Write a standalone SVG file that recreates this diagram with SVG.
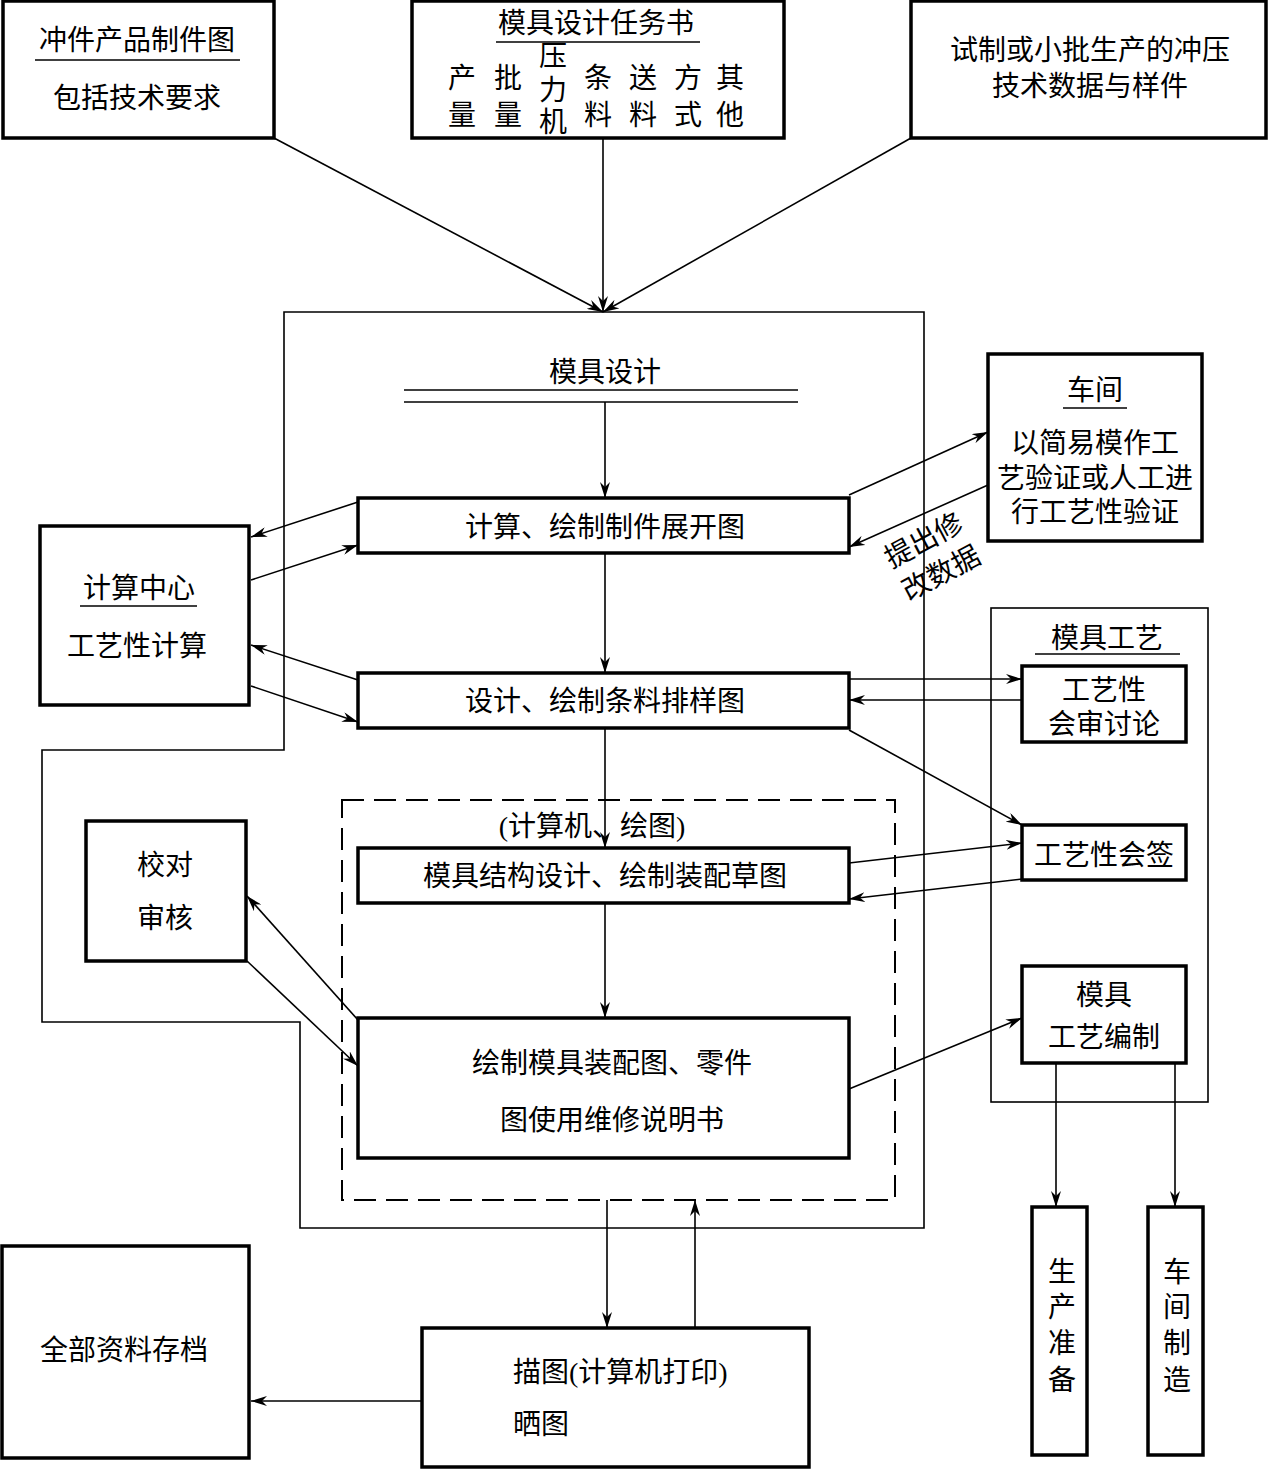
<svg xmlns="http://www.w3.org/2000/svg" width="1269" height="1470" viewBox="0 0 1269 1470">
<style>
.box{fill:#fff;stroke:#000;stroke-width:3.5}
.thin{fill:none;stroke:#000;stroke-width:1.6}
.dash{fill:none;stroke:#000;stroke-width:2;stroke-dasharray:22 10}
.ul{stroke:#000;stroke-width:1.6}
.c{stroke:#000;stroke-width:1.6;fill:none;marker-end:url(#ah)}
text{font-family:"Liberation Serif","Noto Sans CJK SC",serif;font-size:28px;fill:#000;text-anchor:middle}
.l{text-anchor:start}
</style>
<defs>
<marker id="ah" viewBox="0 0 16 10" refX="16" refY="5" markerWidth="16" markerHeight="10" markerUnits="userSpaceOnUse" orient="auto">
<path d="M0,0 L16,5 L0,10 L5,5 z" fill="#000"/>
</marker>
</defs>

<g id="containers">
<polygon class="thin" points="284,312 924,312 924,1228 300,1228 300,1022 42,1022 42,750 284,750"/>
<rect class="dash" x="342" y="800" width="553" height="400"/>
<rect id="moju-gongyi" class="thin" x="991" y="608" width="217" height="494"/>
<text x="1107" y="648">模具工艺</text>
<line class="ul" x1="1035" y1="654" x2="1180" y2="654"/>
</g>

<g id="connectors">
<line class="c" x1="274" y1="138" x2="603" y2="312"/>
<line class="c" x1="603" y1="138" x2="603" y2="312"/>
<line class="c" x1="911" y1="138" x2="603" y2="312"/>
<line class="c" x1="605" y1="402" x2="605" y2="498"/>
<line class="c" x1="605" y1="553" x2="605" y2="673"/>
<line class="c" x1="605" y1="728" x2="605" y2="848"/>
<line class="c" x1="605" y1="903" x2="605" y2="1018"/>
<line class="c" x1="358" y1="502" x2="251" y2="537"/>
<line class="c" x1="251" y1="580" x2="358" y2="545"/>
<line class="c" x1="358" y1="680" x2="251" y2="645"/>
<line class="c" x1="251" y1="686" x2="358" y2="722"/>
<line class="c" x1="849" y1="495" x2="988" y2="432"/>
<line class="c" x1="988" y1="485" x2="849" y2="547"/>
<line class="c" x1="849" y1="679" x2="1022" y2="679"/>
<line class="c" x1="1022" y1="700" x2="849" y2="700"/>
<line class="c" x1="849" y1="730" x2="1022" y2="825"/>
<line class="c" x1="849" y1="863" x2="1022" y2="843"/>
<line class="c" x1="1022" y1="879" x2="849" y2="899"/>
<line class="c" x1="849" y1="1089" x2="1022" y2="1018"/>
<line class="c" x1="1056" y1="1063" x2="1056" y2="1207"/>
<line class="c" x1="1175" y1="1063" x2="1175" y2="1207"/>
<line class="c" x1="358" y1="1020" x2="247" y2="896"/>
<line class="c" x1="247" y1="961" x2="358" y2="1066"/>
<line class="c" x1="607" y1="1200" x2="607" y2="1328"/>
<line class="c" x1="695" y1="1328" x2="695" y2="1200"/>
<line class="c" x1="422" y1="1401" x2="251" y2="1401"/>
</g>

<g id="chongjian">
<rect class="box" x="3" y="1" width="271" height="137"/>
<text x="137" y="50">冲件产品制件图</text>
<line class="ul" x1="35" y1="60" x2="240" y2="60"/>
<text x="137" y="108">包括技术要求</text>
</g>

<g id="renwushu">
<rect class="box" x="412" y="1" width="372" height="137"/>
<text x="596" y="33">模具设计任务书</text>
<line class="ul" x1="496" y1="42" x2="700" y2="42"/>
<text x="462" y="88">产</text><text x="462" y="125">量</text>
<text x="508" y="88">批</text><text x="508" y="125">量</text>
<text x="553" y="66">压</text><text x="553" y="100">力</text><text x="553" y="132">机</text>
<text x="598" y="88">条</text><text x="598" y="125">料</text>
<text x="643" y="88">送</text><text x="643" y="125">料</text>
<text x="688" y="88">方</text><text x="688" y="125">式</text>
<text x="730" y="88">其</text><text x="730" y="125">他</text>
</g>

<g id="shizhi">
<rect class="box" x="911" y="1" width="355" height="137"/>
<text x="1090" y="60">试制或小批生产的冲压</text>
<text x="1090" y="96">技术数据与样件</text>
</g>

<g id="mojusheji">
<text x="605" y="382">模具设计</text>
<line class="ul" x1="404" y1="390" x2="798" y2="390"/>
<line class="ul" x1="404" y1="402" x2="798" y2="402"/>
</g>

<g id="zhankaitu">
<rect class="box" x="358" y="498" width="491" height="55"/>
<text x="605" y="537">计算、绘制制件展开图</text>
</g>

<g id="paiyangtu">
<rect class="box" x="358" y="673" width="491" height="55"/>
<text x="605" y="711">设计、绘制条料排样图</text>
</g>

<text id="jisuanji-label" x="592" y="836">(计算机、绘图)</text>

<g id="caotu">
<rect class="box" x="358" y="848" width="491" height="55"/>
<text x="605" y="886">模具结构设计、绘制装配草图</text>
</g>

<g id="zhuangpeitu">
<rect class="box" x="358" y="1018" width="491" height="140"/>
<text x="612" y="1073">绘制模具装配图、零件</text>
<text x="612" y="1130">图使用维修说明书</text>
</g>

<g id="jisuanzhongxin">
<rect class="box" x="40" y="526" width="209" height="179"/>
<text x="139" y="598">计算中心</text>
<line class="ul" x1="80" y1="606" x2="197" y2="606"/>
<text x="137" y="656">工艺性计算</text>
</g>

<g id="chejian">
<rect class="box" x="988" y="354" width="214" height="187"/>
<text x="1095" y="400">车间</text>
<line class="ul" x1="1063" y1="408" x2="1127" y2="408"/>
<text x="1095" y="453">以简易模作工</text>
<text x="1095" y="488">艺验证或人工进</text>
<text x="1095" y="522">行工艺性验证</text>
</g>

<g id="tichu-label" transform="translate(932,556) rotate(-28)">
<text x="0" y="-8">提出修</text>
<text x="0" y="29">改数据</text>
</g>

<g id="huishen">
<rect class="box" x="1022" y="666" width="164" height="76"/>
<text x="1104" y="700">工艺性</text>
<text x="1104" y="734">会审讨论</text>
</g>

<g id="huiqian">
<rect class="box" x="1022" y="825" width="164" height="55"/>
<text x="1104" y="865">工艺性会签</text>
</g>

<g id="gongyibianzhi">
<rect class="box" x="1022" y="966" width="164" height="97"/>
<text x="1104" y="1005">模具</text>
<text x="1104" y="1047">工艺编制</text>
</g>

<g id="shengchanzhunbei">
<rect class="box" x="1032" y="1207" width="55" height="248"/>
<text x="1062" y="1282">生</text>
<text x="1062" y="1317">产</text>
<text x="1062" y="1353">准</text>
<text x="1062" y="1390">备</text>
</g>

<g id="chejianzhizao">
<rect class="box" x="1148" y="1207" width="55" height="248"/>
<text x="1177" y="1282">车</text>
<text x="1177" y="1317">间</text>
<text x="1177" y="1353">制</text>
<text x="1177" y="1390">造</text>
</g>

<g id="jiaodui">
<rect class="box" x="86" y="821" width="160" height="140"/>
<text x="165" y="875">校对</text>
<text x="165" y="928">审核</text>
</g>

<g id="miaotu">
<rect class="box" x="422" y="1328" width="387" height="139"/>
<text class="l" x="513" y="1382">描图(计算机打印)</text>
<text class="l" x="513" y="1434">晒图</text>
</g>

<g id="cundang">
<rect class="box" x="2" y="1246" width="247" height="212"/>
<text x="124" y="1360">全部资料存档</text>
</g>
</svg>
